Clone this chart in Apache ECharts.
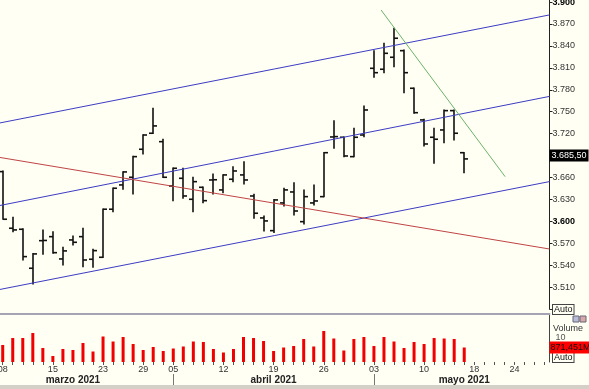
<!DOCTYPE html>
<html>
<head>
<meta charset="utf-8">
<script src="https://cdn.jsdelivr.net/npm/echarts@6/dist/echarts.min.js"></script>
<style>
html,body{margin:0;padding:0;background:#fffff4;}
#c{width:589px;height:389px;}
</style>
</head>
<body>
<div id="c"></div>
<script>
// ---- data ----
const dates = ['2021-03-08','2021-03-09','2021-03-10','2021-03-11','2021-03-12','2021-03-15','2021-03-16','2021-03-17','2021-03-18','2021-03-19',
 '2021-03-23','2021-03-24','2021-03-25','2021-03-26','2021-03-29','2021-03-30','2021-03-31','2021-04-05','2021-04-06','2021-04-07',
 '2021-04-08','2021-04-09','2021-04-12','2021-04-13','2021-04-14','2021-04-15','2021-04-16','2021-04-19','2021-04-20','2021-04-21',
 '2021-04-22','2021-04-23','2021-04-26','2021-04-27','2021-04-28','2021-04-29','2021-04-30','2021-05-03','2021-05-04','2021-05-05',
 '2021-05-06','2021-05-07','2021-05-10','2021-05-11','2021-05-12','2021-05-13','2021-05-14','2021-05-18','2021-05-19','2021-05-20',
 '2021-05-21','2021-05-24','2021-05-25','2021-05-26','2021-05-27'];
const opens = [3.6681,3.5907,3.5893,3.5360,3.5737,3.5792,3.5487,3.5747,3.5792,3.5483,3.5510,3.6167,3.6499,3.6604,3.6987,3.7206,3.7091,3.6485,3.6590,3.6303,3.6467,3.6567,3.6431,3.6577,3.6636,3.6348,3.6048,3.5874,3.6253,3.6403,3.5997,3.6253,3.6339,3.7155,3.7151,3.6886,3.7182,3.8094,3.8081,3.8245,3.8335,3.7821,3.7388,3.7151,3.7251,3.7515,3.6940];
const highs = [3.6690,3.6057,3.5900,3.5560,3.5884,3.5860,3.5647,3.5802,3.5907,3.5620,3.6170,3.6457,3.6681,3.6890,3.7185,3.7548,3.7124,3.6730,3.6727,3.6604,3.6470,3.6649,3.6640,3.6749,3.6817,3.6372,3.6075,3.6301,3.6454,3.6530,3.6431,3.6499,3.6943,3.7378,3.7155,3.7274,3.7579,3.8335,3.8436,3.8641,3.8345,3.7825,3.7397,3.7274,3.7524,3.7524,3.6943];
const lows = [3.6030,3.5860,3.5473,3.5145,3.5551,3.5565,3.5405,3.5679,3.5382,3.5374,3.5507,3.6134,3.6440,3.6376,3.6923,3.7203,3.6600,3.6284,3.6317,3.6134,3.6257,3.6376,3.6394,3.6544,3.6513,3.6044,3.5870,3.5849,3.6212,3.6089,3.5966,3.6225,3.6336,3.7001,3.6886,3.6883,3.7159,3.7971,3.8034,3.8116,3.7761,3.7479,3.7032,3.6796,3.7077,3.7114,3.6667];
const closes = [3.6030,3.5884,3.5519,3.5556,3.5740,3.5573,3.5597,3.5715,3.5473,3.5601,3.6167,3.6454,3.6677,3.6886,3.7182,3.7306,3.6604,3.6727,3.6348,3.6544,3.6284,3.6570,3.6636,3.6690,3.6567,3.6112,3.6007,3.6294,3.6431,3.6143,3.6339,3.6280,3.6940,3.7160,3.6895,3.7151,3.7524,3.8034,3.8299,3.8505,3.8034,3.7487,3.7059,3.7124,3.7515,3.7206,3.6855];
const volumes = [1022,1442,1442,1743,841,361,781,721,1142,631,1533,1232,1503,1082,721,902,661,811,932,1232,1202,781,571,781,1503,1442,1262,661,871,962,1382,932,1863,1412,691,1382,1503,962,1503,1232,841,1202,1082,1442,1412,1382,871.451];
const trendTop = [[-0.5,3.7341],[54.5,3.8824]];
const trendMid = [[-0.5,3.6212],[54.5,3.7710]];
const trendBottom = [[-0.5,3.5064],[54.5,3.6545]];
const trendRed = [[-0.5,3.6880],[54.5,3.5623]];
const trendGreen = [[37.71,3.8891],[50.08,3.6612]];
const dayLabelIdx = [0,5,10,14,17,22,27,32,37,42,47,51];
const monthLabels = {7:'marzo 2021',27:'abril 2021',46:'mayo 2021'};
const monthTickIdx = [17,37];
const lastPrice = 3.6855, lastPriceText = '3.685,50';
const lastVolume = 871.451, lastVolumeText = '871,451M';
const boldPriceTicks = ['3.900','3.600'];

const FONT = 'Liberation Sans, Arial, sans-serif';
const ohlc = opens.map((o,i)=>[i,o,closes[i],lows[i],highs[i]]);

const chart = echarts.init(document.getElementById('c'), null, {renderer:'canvas'});
chart.setOption({
  animation:false,
  backgroundColor:'#fffff4',
  grid:[
    {left:-2.3, right:39.5, top:-19.9, height:329.1, outerBoundsMode:'none', containLabel:false},
    {left:-2.3, right:39.5, top:314, height:48, outerBoundsMode:'none', containLabel:false}
  ],
  xAxis:[
    {type:'category', gridIndex:0, data:dates, boundaryGap:true, show:false},
    {type:'value', gridIndex:0, min:-0.5, max:54.5, show:false},
    {type:'category', gridIndex:1, data:dates, boundaryGap:true, position:'bottom',
      axisLine:{show:false},
      axisTick:{show:true, interval:0, alignWithLabel:true, length:3, lineStyle:{color:'#555'}},
      axisLabel:{interval:(i)=>dayLabelIdx.includes(i), formatter:(v)=>v.slice(8), fontSize:9, color:'#333', margin:3, fontFamily:FONT},
      splitLine:{show:false}},
    {type:'category', gridIndex:1, data:dates, boundaryGap:true, position:'bottom', offset:12,
      axisLine:{show:false},
      axisTick:{show:true, interval:(i)=>monthTickIdx.includes(i), alignWithLabel:true, length:11, lineStyle:{color:'#777', width:1}},
      axisLabel:{interval:(i)=>monthLabels[i]!==undefined, formatter:(v,i)=>monthLabels[i]||'', fontSize:10, fontWeight:'bold', color:'#222', margin:1, fontFamily:FONT},
      splitLine:{show:false}},
    {type:'category', gridIndex:1, data:dates, position:'top',
      axisLine:{show:true, lineStyle:{color:'#a4a4b4', width:2}},
      axisTick:{show:false}, axisLabel:{show:false}}
  ],
  yAxis:[
    {type:'value', gridIndex:0, position:'right', min:3.48, max:3.93, interval:0.03,
      axisLine:{show:true, onZero:false, lineStyle:{color:'#222'}},
      axisTick:{show:true, length:3, lineStyle:{color:'#222'}},
      splitLine:{show:false},
      axisLabel:{margin:3, fontSize:9, color:'#333', fontFamily:FONT,
        formatter:(v)=>{ if(v<3.5||v>3.91) return ''; const s=v.toFixed(3); return boldPriceTicks.includes(s)?'{b|'+s+'}':s; },
        rich:{b:{fontWeight:'bold', color:'#000', fontSize:9, fontFamily:FONT}}}},
    {type:'value', gridIndex:1, position:'right', min:0, max:2885, interval:1442.5,
      axisLine:{show:true, onZero:false, lineStyle:{color:'#444'}},
      axisTick:{show:false}, splitLine:{show:false},
      axisLabel:{margin:6, fontSize:9, color:'#555', fontFamily:FONT, formatter:(v)=> v===1442.5?'10':''}}
  ],
  series:[
    {type:'line', xAxisIndex:1, yAxisIndex:0, data:trendTop, symbol:'none', lineStyle:{color:'#3c3cc4', width:1}, silent:true},
    {type:'line', xAxisIndex:1, yAxisIndex:0, data:trendMid, symbol:'none', lineStyle:{color:'#3c3cc4', width:1}, silent:true},
    {type:'line', xAxisIndex:1, yAxisIndex:0, data:trendBottom, symbol:'none', lineStyle:{color:'#3c3cc4', width:1}, silent:true},
    {type:'line', xAxisIndex:1, yAxisIndex:0, data:trendRed, symbol:'none', lineStyle:{color:'#c04444', width:1}, silent:true},
    {type:'line', xAxisIndex:1, yAxisIndex:0, data:trendGreen, symbol:'none', lineStyle:{color:'#6ab46a', width:1}, silent:true},
    {type:'custom', xAxisIndex:0, yAxisIndex:0, data:ohlc, encode:{x:0, y:[1,2,3,4]},
      renderItem:function(params, api){
        const idx = api.value(0);
        const pO = api.coord([idx, api.value(1)]);
        const pC = api.coord([idx, api.value(2)]);
        const pL = api.coord([idx, api.value(3)]);
        const pH = api.coord([idx, api.value(4)]);
        const x = Math.round(pO[0]);
        const t = api.size([1,0])[0]*0.4;
        const st = {stroke:'#111', lineWidth:1.6};
        return {type:'group', children:[
          {type:'line', shape:{x1:x, y1:pH[1]-0.5, x2:x, y2:pL[1]+0.5}, style:st},
          {type:'line', shape:{x1:x-t, y1:pO[1], x2:x, y2:pO[1]}, style:st},
          {type:'line', shape:{x1:x, y1:pC[1], x2:x+t, y2:pC[1]}, style:st}
        ]};
      },
      markLine:{silent:true, symbol:'none', lineStyle:{color:'rgba(0,0,0,0)', width:0}, data:[{yAxis:lastPrice}],
        label:{show:true, position:'end', distance:0, formatter:lastPriceText, backgroundColor:'#000', color:'#fff', fontSize:9, padding:[2,2,1,2], fontFamily:FONT}}},
    {type:'bar', xAxisIndex:2, yAxisIndex:1, data:volumes, barWidth:3,
      itemStyle:{color:'#f00000'},
      markLine:{silent:true, symbol:'none', lineStyle:{color:'rgba(0,0,0,0)', width:0}, data:[{yAxis:lastVolume}],
        label:{show:true, position:'end', distance:0, formatter:lastVolumeText, backgroundColor:'#ff0000', color:'#111', fontSize:9, padding:[2,1,1,1], fontFamily:FONT}}}
  ],
  graphic:[
    {type:'rect', shape:{x:0,y:385,width:589,height:4}, style:{fill:'#d4d0c8'}, silent:true},
    {type:'text', x:553, y:305, style:{text:'Auto', fontSize:9, fontFamily:FONT, fill:'#111', backgroundColor:'#fffff4', borderColor:'#444', borderWidth:1, padding:[0,1,0,1]}},
    {type:'text', x:553, y:353, style:{text:'Auto', fontSize:9, fontFamily:FONT, fill:'#111', backgroundColor:'#fffff4', borderColor:'#444', borderWidth:1, padding:[0,1,0,1]}},
    {type:'text', x:553, y:324, style:{text:'Volume', fontSize:9, fontFamily:FONT, fill:'#333'}},
    {type:'rect', shape:{x:573,y:316,width:6,height:6}, style:{fill:'#b8bcd8', stroke:'#667'}},
    {type:'rect', shape:{x:580,y:316,width:6,height:6}, style:{fill:'#d8a8a8', stroke:'#667'}}
  ]
});
</script>
</body>
</html>
